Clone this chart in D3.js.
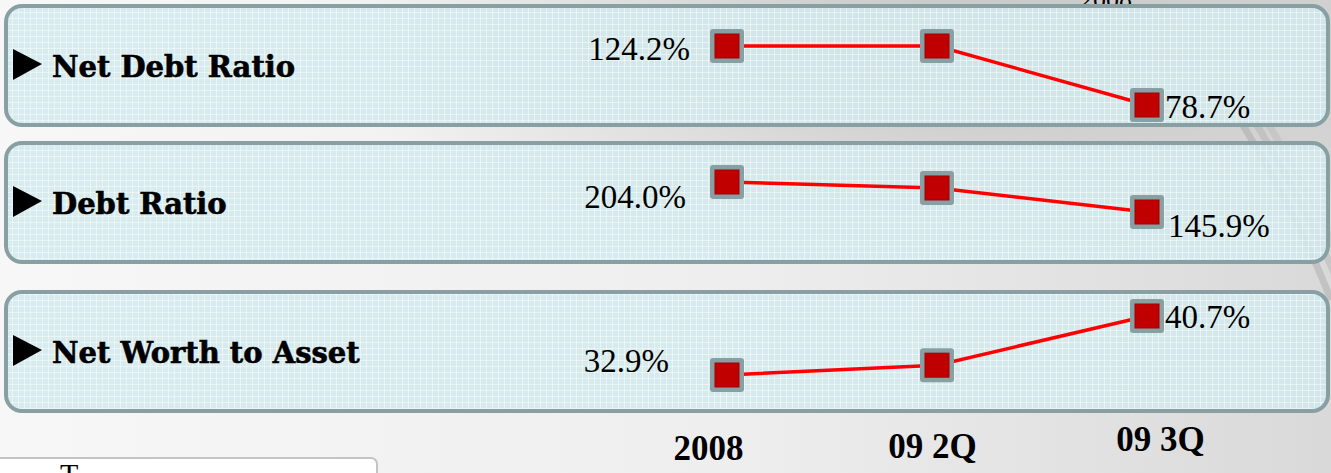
<!DOCTYPE html>
<html>
<head>
<meta charset="utf-8">
<script src="https://cdn.jsdelivr.net/npm/d3@7"></script>
<style>
  html, body { margin: 0; padding: 0; overflow: hidden; background: #f2f2f2; }
</style>
</head>
<body>
<div id="chart"></div>
<script>
// Data
var categories = ["2008", "09 2Q", "09 3Q"];
var seriesNames = ["Net Debt Ratio", "Debt Ratio", "Net Worth to Asset"];
var netDebtRatio = [124.2, 124.2, 78.7];
var debtRatio = [204.0, 192.4, 145.9];
var netWorthToAsset = [32.9, 34.2, 40.7];
var seriesValues = [netDebtRatio, debtRatio, netWorthToAsset];

var width = 1331,
  height = 473;

// panel boxes and the pixel band each mini chart uses
var panels = [
  { y: 6, h: 119, top: 46, bottom: 105, first: [-37, 14], last: [18, 13] },
  { y: 143, h: 119, top: 182, bottom: 212, first: [-41, 26], last: [21, 25] },
  { y: 292, h: 119, top: 316, bottom: 375, first: [-58, -3], last: [18, 12] }
];
var tickShift = [[-19, 0], [-5, -2], [13, -9]];

var svg = d3
  .select("#chart")
  .append("svg")
  .attr("width", width)
  .attr("height", height);

var defs = svg.append("defs");

var bg = defs.append("linearGradient").attr("id", "bg").attr("x1", 0).attr("x2", 1);
bg.append("stop").attr("offset", "0").attr("stop-color", "#f7f7f7");
bg.append("stop").attr("offset", "0.55").attr("stop-color", "#eeeeee");
bg.append("stop").attr("offset", "1").attr("stop-color", "#d9d9d9");

var blob = defs.append("radialGradient").attr("id", "blob").attr("cx", 0.7).attr("cy", 0.1).attr("r", 0.45);
blob.append("stop").attr("offset", "0").attr("stop-color", "#9a9a9a").attr("stop-opacity", 0.45);
blob.append("stop").attr("offset", "1").attr("stop-color", "#9a9a9a").attr("stop-opacity", 0);

var pat = defs
  .append("pattern")
  .attr("id", "grid")
  .attr("width", 6)
  .attr("height", 6)
  .attr("patternUnits", "userSpaceOnUse");
pat.append("rect").attr("width", 6).attr("height", 6).attr("fill", "#d3e9ec").attr("fill-opacity", 0.85);
pat.append("path").attr("d", "M0 0.5H6M0.5 0V6").attr("stroke", "#ffffff").attr("stroke-opacity", 0.45).attr("stroke-width", 1);

svg.append("rect").attr("width", width).attr("height", height).attr("fill", "url(#bg)");
svg.append("rect").attr("width", width).attr("height", height).attr("fill", "url(#blob)");

// swoosh arcs on the right
[0, 14, 26].forEach(function (d, i) {
  svg
    .append("path")
    .attr("d", "M" + (1240 + d) + " 120 Q " + (1300 + d) + " 220 " + (1331 + d) + " 300")
    .attr("fill", "none")
    .attr("stroke", "#8d8d8d")
    .attr("stroke-opacity", 0.3 - i * 0.07)
    .attr("stroke-width", 7);
});

// partial box bottom-left and cut-off text at top
svg.append("rect").attr("x", -10).attr("y", 458).attr("width", 387).attr("height", 40).attr("rx", 6)
  .attr("fill", "#ffffff").attr("stroke", "#c4c4c4").attr("stroke-width", 2);
svg.append("text").attr("x", 60).attr("y", 484).attr("font-family", "Liberation Serif").attr("font-size", 30).text("T");
svg.append("text").attr("x", 1106).attr("y", 8).attr("text-anchor", "middle")
  .attr("font-family", "Liberation Serif").attr("font-size", 26).text("2008");

var x = d3.scalePoint().domain(categories).range([727, 1147]);

var fmt = d3.format(".1f");
var line = d3.line();

panels.forEach(function (p, i) {
  var values = seriesValues[i];
  var y = d3.scaleLinear().domain(d3.extent(values)).range([p.bottom, p.top]);
  var g = svg.append("g");

  g.append("rect")
    .attr("x", 6)
    .attr("y", p.y)
    .attr("width", 1322)
    .attr("height", p.h)
    .attr("rx", 16)
    .attr("fill", "url(#grid)")
    .attr("stroke", "#88a0a3")
    .attr("stroke-width", 4);

  g.append("path")
    .attr("d", "M13 " + (p.y + 43) + "L42 " + (p.y + 58) + "L13 " + (p.y + 74) + "Z")
    .attr("fill", "#000");

  g.append("text")
    .attr("x", 52)
    .attr("y", p.y + 71)
    .attr("font-family", "DejaVu Serif")
    .attr("font-weight", "bold")
    .attr("font-size", 29)
    .attr("fill", "#000")
    .attr("stroke", "#000")
    .attr("stroke-width", 0.6)
    .text(seriesNames[i]);

  var pts = values.map(function (v, j) {
    return [x(categories[j]), y(v)];
  });

  g.append("path")
    .attr("d", line(pts))
    .attr("fill", "none")
    .attr("stroke", "#ff0000")
    .attr("stroke-width", 3.5);

  var m = g.selectAll(".mk").data(pts).enter().append("g").attr("transform", function (d) {
    return "translate(" + d[0] + "," + d[1] + ")";
  });
  m.append("rect").attr("x", -17).attr("y", -17).attr("width", 34).attr("height", 34).attr("rx", 3).attr("fill", "#88a0a3");
  m.append("rect").attr("x", -12).attr("y", -12).attr("width", 24).attr("height", 24)
    .attr("fill", "#c00000").attr("stroke", "#a40000").attr("stroke-width", 1);

  // first and last value labels
  g.append("text")
    .attr("x", pts[0][0] + p.first[0])
    .attr("y", pts[0][1] + p.first[1])
    .attr("text-anchor", "end")
    .attr("font-family", "Liberation Serif")
    .attr("font-size", 33)
    .text(fmt(values[0]) + "%");
  g.append("text")
    .attr("x", pts[2][0] + p.last[0])
    .attr("y", pts[2][1] + p.last[1])
    .attr("font-family", "Liberation Serif")
    .attr("font-size", 33)
    .text(fmt(values[2]) + "%");
});

// category axis
var axis = svg
  .append("g")
  .attr("transform", "translate(0,435)")
  .call(d3.axisBottom(x).tickSize(0).tickPadding(0));
axis.select(".domain").remove();
axis
  .selectAll("text")
  .attr("font-family", "Liberation Serif")
  .attr("font-weight", "bold")
  .attr("font-size", 35)
  .attr("fill", "#000")
  .attr("dy", "0.71em")
  .attr("transform", function (d, i) {
    return "translate(" + tickShift[i][0] + "," + tickShift[i][1] + ")";
  });
</script>
</body>
</html>
